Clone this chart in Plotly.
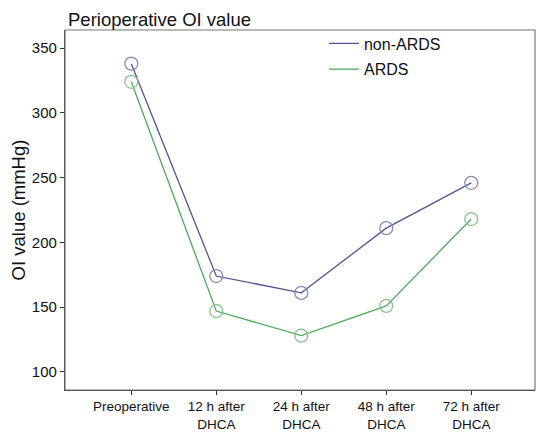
import plotly.graph_objects as go

categories = ["Preoperative", "12 h after<br>DHCA", "24 h after<br>DHCA", "48 h after<br>DHCA", "72 h after<br>DHCA"]
non_ards = [338, 174, 161, 211, 246]
ards = [324, 147, 128, 151, 218]
y_ticks = [100, 150, 200, 250, 300, 350]

x_idx = list(range(len(categories)))

blue_line = "#4f5590"
blue_marker = "#8a8cb6"
green_line = "#4fa95b"
green_marker = "#86c48d"

fig = go.Figure()
for name, vals, lc in [("non-ARDS", non_ards, blue_line),
                       ("ARDS", ards, green_line)]:
    fig.add_trace(go.Scatter(x=x_idx, y=vals, mode="lines", name=name, legendgroup=name,
                             line=dict(color=lc, width=1.3)))
for vals, mc in [(non_ards, blue_marker), (ards, green_marker)]:
    fig.add_trace(go.Scatter(x=x_idx, y=vals, mode="markers", showlegend=False,
                             marker=dict(symbol="circle-open", size=13, color=mc,
                                         line=dict(width=1.3, color=mc))))

# page body has an 8px default margin; size the figure to fill the remaining window
fig.update_layout(
    width=536, height=424,
    margin=dict(l=57, r=9, t=22, b=42, autoexpand=False),
    paper_bgcolor="white", plot_bgcolor="white",
    font=dict(family="Liberation Sans, Arial, sans-serif", color="#111111"),
    title=dict(text="Perioperative OI value", x=0, xref="paper", xanchor="left",
               y=1, yref="container", yanchor="top", pad=dict(t=5, l=3),
               font=dict(size=18.5, color="#111111")),
    showlegend=True,
    legend=dict(x=0.551, y=1.01, xanchor="left", yanchor="top",
                bgcolor="rgba(0,0,0,0)", font=dict(size=16),
                tracegroupgap=2, itemwidth=30),
    shapes=[dict(type="rect", xref="paper", yref="paper", x0=0, x1=1, y0=0, y1=1,
                 line=dict(color="#777777", width=1.2), layer="above")],
)
fig.update_xaxes(
    range=[-0.78, 4.75], tickmode="array", tickvals=x_idx, ticktext=categories,
    showgrid=False, zeroline=False, showline=True, linecolor="#333333", linewidth=1.3,
    ticks="outside", ticklen=4, tickcolor="#333333", tickfont=dict(size=13.5),
    automargin=False,
)
fig.update_yaxes(
    range=[86, 364], tickmode="array", tickvals=y_ticks,
    showgrid=False, zeroline=False, showline=True, linecolor="#333333", linewidth=1.3,
    ticks="outside", ticklen=4, tickcolor="#333333", tickfont=dict(size=15),
    title=dict(text="OI value (mmHg)", font=dict(size=18.5), standoff=1),
    automargin=False,
)
fig.write_html("out.html")
